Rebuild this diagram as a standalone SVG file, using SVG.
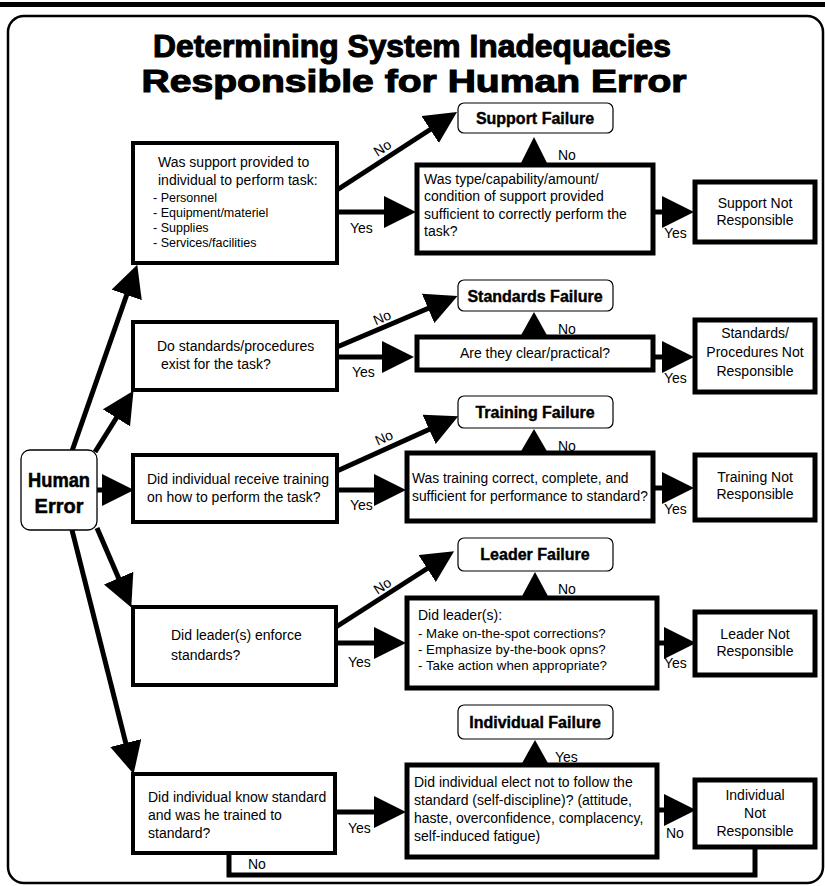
<svg xmlns="http://www.w3.org/2000/svg" width="825" height="886" viewBox="0 0 825 886">
<defs>
<style>
text{font-family:"Liberation Sans",Arial,sans-serif;fill:#000}
.title{font-size:32px;font-weight:bold;text-anchor:middle;stroke:#000;stroke-width:1.1}
.q{font-size:14px}
.ql{font-size:12.5px}
.c{text-anchor:middle}
.fail{font-size:16px;font-weight:bold;text-anchor:middle;stroke:#000;stroke-width:0.4}
.lbl{font-size:14px}
.he{font-size:20px;font-weight:bold;text-anchor:middle;stroke:#000;stroke-width:0.5}
.qbox{fill:#fff;stroke:#000;stroke-width:4}
.mbox{fill:#fff;stroke:#000;stroke-width:5}
.fbox{fill:#fff;stroke:#000;stroke-width:1.2}
.conn{fill:none;stroke:#000;stroke-width:5}
.tri{fill:#000}
</style>
<marker id="ah" markerUnits="userSpaceOnUse" markerWidth="33" markerHeight="32" refX="1" refY="16" orient="auto">
<path d="M0,0 L32,16 L0,32 z" fill="#000"/>
</marker>
</defs>
<rect x="0" y="2" width="825" height="5" fill="#000"/>
<rect x="8" y="16" width="815" height="867" rx="16" fill="none" stroke="#000" stroke-width="2.5"/>
<text class="title" x="412" y="57" textLength="518" lengthAdjust="spacingAndGlyphs">Determining System Inadequacies</text>
<text class="title" x="414" y="92" textLength="545" lengthAdjust="spacingAndGlyphs">Responsible for Human Error</text>

<g id="connectors">
<path class="conn" marker-end="url(#ah)" d="M72,451 L127,294"/>
<path class="conn" marker-end="url(#ah)" d="M95,452 L117,417"/>
<path class="conn" marker-end="url(#ah)" d="M97,490 L103,490"/>
<path class="conn" marker-end="url(#ah)" d="M97,528 L119,579"/>
<path class="conn" marker-end="url(#ah)" d="M72,530 L126,744"/>
<path class="conn" marker-end="url(#ah)" d="M337,190 L431,129"/>
<path class="conn" marker-end="url(#ah)" d="M337,212 L385,212"/>
<path class="conn" marker-end="url(#ah)" d="M653,212 L663,212"/>
<polygon class="tri" points="520,165 548,165 534,137"/>
<path class="conn" marker-end="url(#ah)" d="M337,347 L429,308"/>
<path class="conn" marker-end="url(#ah)" d="M337,357 L383,357"/>
<path class="conn" marker-end="url(#ah)" d="M653,357 L663,357"/>
<polygon class="tri" points="520,337 548,337 534,312"/>
<path class="conn" marker-end="url(#ah)" d="M337,471 L430,429"/>
<path class="conn" marker-end="url(#ah)" d="M337,490 L375,490"/>
<path class="conn" marker-end="url(#ah)" d="M653,488 L663,488"/>
<polygon class="tri" points="520,453 548,453 534,429"/>
<path class="conn" marker-end="url(#ah)" d="M336,627 L428,568"/>
<path class="conn" marker-end="url(#ah)" d="M337,643 L375,643"/>
<path class="conn" marker-end="url(#ah)" d="M657,643 L665,643"/>
<polygon class="tri" points="521,598 549,598 535,572"/>
<path class="conn" marker-end="url(#ah)" d="M337,812 L375,812"/>
<path class="conn" marker-end="url(#ah)" d="M657,810 L665,810"/>
<polygon class="tri" points="521,765 549,765 535,740"/>
<path class="conn" d="M229,853 L229,875 L755,875 L755,847"/>
<text class="lbl" x="385" y="152" text-anchor="middle" transform="rotate(-33 385 152)">No</text>
<text class="lbl" x="350" y="233">Yes</text>
<text class="lbl" x="558" y="160">No</text>
<text class="lbl" x="664" y="238">Yes</text>
<text class="lbl" x="384" y="322" text-anchor="middle" transform="rotate(-23 384 322)">No</text>
<text class="lbl" x="352" y="377">Yes</text>
<text class="lbl" x="558" y="334">No</text>
<text class="lbl" x="664" y="383">Yes</text>
<text class="lbl" x="386" y="442" text-anchor="middle" transform="rotate(-24 386 442)">No</text>
<text class="lbl" x="350" y="510">Yes</text>
<text class="lbl" x="558" y="451">No</text>
<text class="lbl" x="664" y="514">Yes</text>
<text class="lbl" x="385" y="590" text-anchor="middle" transform="rotate(-33 385 590)">No</text>
<text class="lbl" x="348" y="667">Yes</text>
<text class="lbl" x="558" y="594">No</text>
<text class="lbl" x="664" y="668">Yes</text>
<text class="lbl" x="348" y="833">Yes</text>
<text class="lbl" x="555" y="762">Yes</text>
<text class="lbl" x="666" y="838">No</text>
<text class="lbl" x="248" y="869">No</text>
</g>

<g id="human-error">
<rect x="21" y="450" width="76" height="80" rx="9" fill="#fff" stroke="#000" stroke-width="1.3"/>
<text class="he" x="59" y="487" textLength="62" lengthAdjust="spacingAndGlyphs">Human</text>
<text class="he" x="59" y="513">Error</text>
</g>

<g id="q-support">
<rect class="qbox" x="133" y="143" width="204" height="120"/>
<text class="q" x="158" y="167">Was support provided to</text>
<text class="q" x="158" y="185">individual to perform task:</text>
<text class="ql" x="153" y="202">- Personnel</text>
<text class="ql" x="153" y="217">- Equipment/materiel</text>
<text class="ql" x="153" y="232">- Supplies</text>
<text class="ql" x="153" y="247">- Services/facilities</text>
</g>
<g id="q-standards">
<rect class="qbox" x="133" y="322" width="204" height="68"/>
<text class="q" x="157" y="351">Do standards/procedures</text>
<text class="q" x="161" y="369">exist for the task?</text>
</g>
<g id="q-training">
<rect class="qbox" x="133" y="455" width="204" height="67"/>
<text class="q" x="147" y="484">Did individual receive training</text>
<text class="q" x="147" y="502">on how to perform the task?</text>
</g>
<g id="q-leader">
<rect class="qbox" x="133" y="607" width="203" height="78"/>
<text class="q" x="171" y="640">Did leader(s) enforce</text>
<text class="q" x="171" y="660">standards?</text>
</g>
<g id="q-individual">
<rect class="qbox" x="133" y="774" width="202" height="79"/>
<text class="q" x="148" y="802">Did individual know standard</text>
<text class="q" x="148" y="820">and was he trained to</text>
<text class="q" x="148" y="838">standard?</text>
</g>

<g id="support-failure">
<rect class="fbox" x="458" y="103" width="155" height="30" rx="6"/>
<text class="fail" x="535" y="124">Support Failure</text>
</g>
<g id="standards-failure">
<rect class="fbox" x="458" y="280" width="155" height="31" rx="6"/>
<text class="fail" x="535" y="302">Standards Failure</text>
</g>
<g id="training-failure">
<rect class="fbox" x="458" y="396" width="155" height="32" rx="6"/>
<text class="fail" x="535" y="418">Training Failure</text>
</g>
<g id="leader-failure">
<rect class="fbox" x="458" y="538" width="155" height="33" rx="6"/>
<text class="fail" x="535" y="560">Leader Failure</text>
</g>
<g id="individual-failure">
<rect class="fbox" x="458" y="705" width="155" height="34" rx="6"/>
<text class="fail" x="535" y="728">Individual Failure</text>
</g>

<g id="m-support">
<rect class="mbox" x="417" y="165" width="236" height="88"/>
<text class="q" x="424" y="184">Was type/capability/amount/</text>
<text class="q" x="424" y="201">condition of support provided</text>
<text class="q" x="424" y="219">sufficient to correctly perform the</text>
<text class="q" x="424" y="236">task?</text>
</g>
<g id="m-standards">
<rect class="mbox" x="417" y="337" width="236" height="33"/>
<text class="q c" x="535" y="358">Are they clear/practical?</text>
</g>
<g id="m-training">
<rect class="mbox" x="407" y="453" width="246" height="68"/>
<text class="q" x="412" y="483" style="font-size:13.8px">Was training correct, complete, and</text>
<text class="q" x="412" y="501" style="font-size:13.8px">sufficient for performance to standard?</text>
</g>
<g id="m-leader">
<rect class="mbox" x="407" y="598" width="250" height="90"/>
<text class="q" x="418" y="620">Did leader(s):</text>
<text class="q" x="418" y="638" style="font-size:13.3px">- Make on-the-spot corrections?</text>
<text class="q" x="418" y="654" style="font-size:13.3px">- Emphasize by-the-book opns?</text>
<text class="q" x="418" y="670" style="font-size:13.3px">- Take action when appropriate?</text>
</g>
<g id="m-individual">
<rect class="mbox" x="407" y="765" width="250" height="92"/>
<text class="q" x="414" y="787">Did individual elect not to follow the</text>
<text class="q" x="414" y="805">standard (self-discipline)? (attitude,</text>
<text class="q" x="414" y="823">haste, overconfidence, complacency,</text>
<text class="q" x="414" y="841">self-induced fatigue)</text>
</g>

<g id="nr-support">
<rect class="mbox" x="695" y="182" width="120" height="60"/>
<text class="q c" x="755" y="208">Support Not</text>
<text class="q c" x="755" y="225">Responsible</text>
</g>
<g id="nr-standards">
<rect class="mbox" x="695" y="320" width="120" height="72"/>
<text class="q c" x="755" y="338">Standards/</text>
<text class="q c" x="755" y="357">Procedures Not</text>
<text class="q c" x="755" y="376">Responsible</text>
</g>
<g id="nr-training">
<rect class="mbox" x="695" y="455" width="120" height="65"/>
<text class="q c" x="755" y="482">Training Not</text>
<text class="q c" x="755" y="499">Responsible</text>
</g>
<g id="nr-leader">
<rect class="mbox" x="695" y="612" width="120" height="63"/>
<text class="q c" x="755" y="639">Leader Not</text>
<text class="q c" x="755" y="656">Responsible</text>
</g>
<g id="nr-individual">
<rect class="mbox" x="695" y="780" width="120" height="67"/>
<text class="q c" x="755" y="800">Individual</text>
<text class="q c" x="755" y="818">Not</text>
<text class="q c" x="755" y="836">Responsible</text>
</g>
</svg>
